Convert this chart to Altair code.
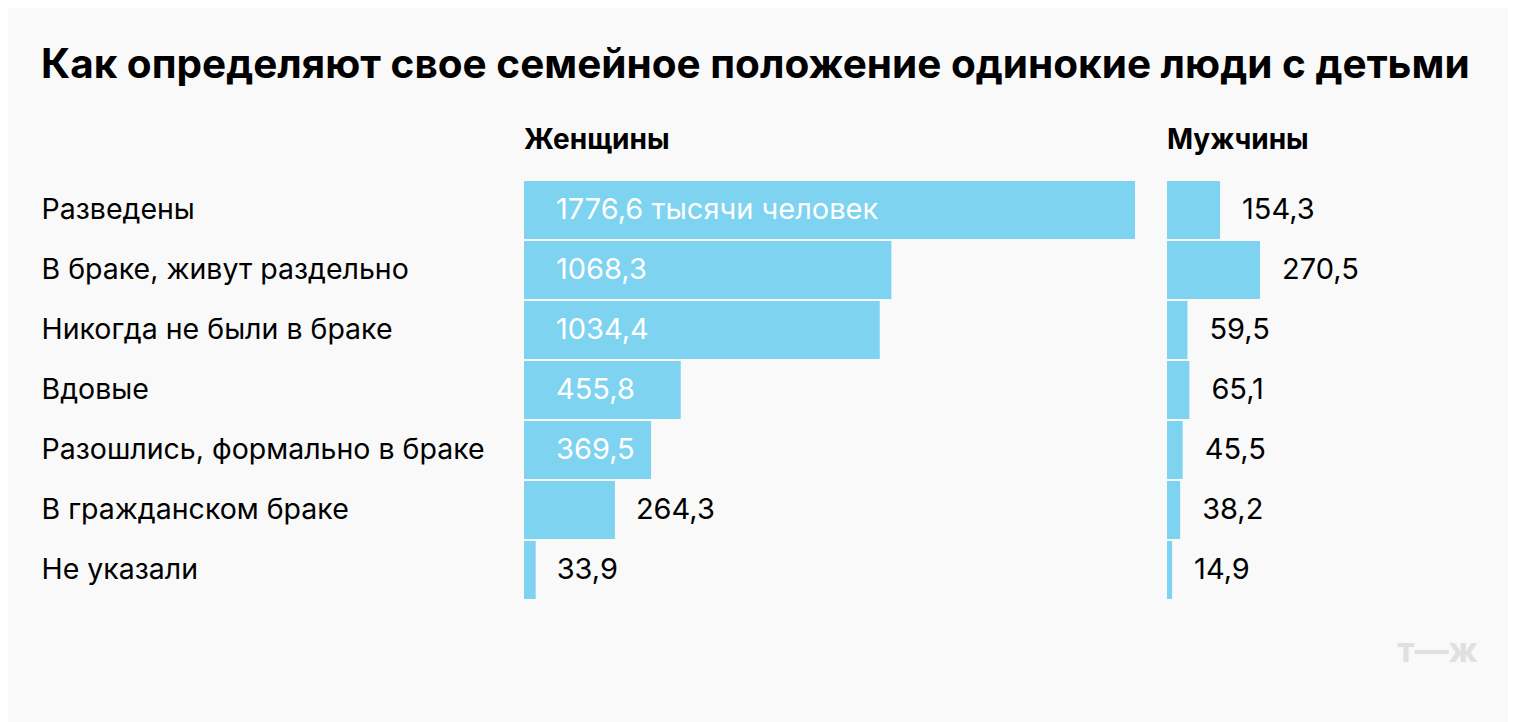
import altair as alt
import pandas as pd

categories = ["Разведены", "В браке, живут раздельно", "Никогда не были в браке",
              "Вдовые", "Разошлись, формально в браке", "В гражданском браке", "Не указали"]
women = [1776.6, 1068.3, 1034.4, 455.8, 369.5, 264.3, 33.9]
men = [154.3, 270.5, 59.5, 65.1, 45.5, 38.2, 14.9]
women_labels = ["1776,6 тысячи человек", "1068,3", "1034,4", "455,8", "369,5", "264,3", "33,9"]
men_labels = ["154,3", "270,5", "59,5", "65,1", "45,5", "38,2", "14,9"]
inside_threshold = 300

BAR = "#7dd3f0"
FONT = "Inter"
CAT_SIZE = 28.5
VAL_SIZE = 29

wdf = pd.DataFrame({"cat": categories, "v": women, "lab": women_labels, "zero": 0.0})
wdf["inside"] = wdf["v"] > inside_threshold
mdf = pd.DataFrame({"cat": categories, "v": men, "lab": men_labels})

yscale = alt.Scale(domain=categories, paddingInner=2 / 60, paddingOuter=1 / 60)

def panel(df, domain_max, show_axis):
    base = alt.Chart(df)
    y_axis = (alt.Axis(title=None, ticks=False, domain=False, labelAlign="left",
                       labelPadding=483, labelLimit=600, labelFontSize=CAT_SIZE,
                       labelColor="#000", labelFont=FONT)
              if show_axis else None)
    xs = alt.Scale(domain=[0, domain_max], nice=False, zero=True)
    bars = base.mark_bar(color=BAR).encode(
        x=alt.X("v:Q", scale=xs, axis=None),
        y=alt.Y("cat:N", sort=categories, scale=yscale, axis=y_axis),
    )
    return bars, base, xs

wbars, wbase, wxs = panel(wdf, 1776.6, True)
w_in = wbase.transform_filter("datum.inside").mark_text(
    align="left", baseline="middle", dx=32, fontSize=VAL_SIZE, font=FONT, color="#ffffff"
).encode(x=alt.X("zero:Q", scale=wxs), y=alt.Y("cat:N", sort=categories, scale=yscale), text="lab:N")
w_out = wbase.transform_filter("!datum.inside").mark_text(
    align="left", baseline="middle", dx=21, fontSize=VAL_SIZE, font=FONT, color="#000000"
).encode(x=alt.X("v:Q", scale=wxs), y=alt.Y("cat:N", sort=categories, scale=yscale), text="lab:N")
left = alt.layer(wbars, w_in, w_out).properties(
    width=611, height=420,
    title=alt.TitleParams("Женщины", anchor="start", fontSize=28, font=FONT,
                          fontWeight="bold", color="#000", offset=25, frame="group"))

mbars, mbase, mxs = panel(mdf, 270.5, False)
m_out = mbase.mark_text(
    align="left", baseline="middle", dx=22, fontSize=VAL_SIZE, font=FONT, color="#000000"
).encode(x=alt.X("v:Q", scale=mxs), y=alt.Y("cat:N", sort=categories, scale=yscale), text="lab:N")
logo = alt.Chart(pd.DataFrame({"t": ["т—ж"]})).mark_text(
    align="right", baseline="alphabetic", fontSize=34, font=FONT, fontWeight="bold", color="#e0e0e0"
).encode(x=alt.value(311), y=alt.value(482), text="t:N")
right = alt.layer(mbars, m_out, logo).properties(
    width=93, height=420,
    title=alt.TitleParams("Мужчины", anchor="start", fontSize=28, font=FONT,
                          fontWeight="bold", color="#000", offset=25, frame="group"))

chart = alt.hconcat(left, right, spacing=32).properties(
    title=alt.TitleParams("Как определяют свое семейное положение одинокие люди с детьми",
                          anchor="start", fontSize=40.5, font=FONT, fontWeight="bold",
                          color="#000", offset=41),
    padding={"left": 33, "top": 37, "right": 30, "bottom": 60},
    background="#f9f9f9",
).configure_view(stroke=None).resolve_scale(x="independent")

chart.save("out.html", embed_options={"renderer": "svg", "actions": False})
